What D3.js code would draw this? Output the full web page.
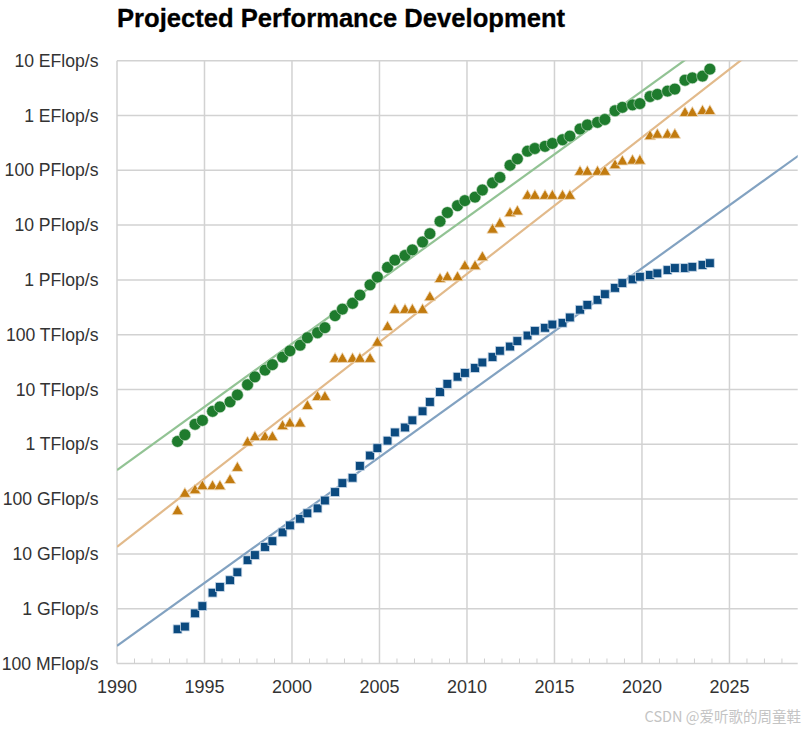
<!DOCTYPE html>
<html><head><meta charset="utf-8">
<script src="https://cdn.jsdelivr.net/npm/d3@7"></script>
<style>body{margin:0;background:#fff;}svg{display:block;}</style>
</head><body>
<svg id="chart" width="810" height="732"></svg>
<script>
// Release dates of lists (June / November)
const lists = [
"1993-06","1993-11","1994-06","1994-11","1995-06","1995-11","1996-06","1996-11",
"1997-06","1997-11","1998-06","1998-11","1999-06","1999-11","2000-06","2000-11",
"2001-06","2001-11","2002-06","2002-11","2003-06","2003-11","2004-06","2004-11",
"2005-06","2005-11","2006-06","2006-11","2007-06","2007-11","2008-06","2008-11",
"2009-06","2009-11","2010-06","2010-11","2011-06","2011-11","2012-06","2012-11",
"2013-06","2013-11","2014-06","2014-11","2015-06","2015-11","2016-06","2016-11",
"2017-06","2017-11","2018-06","2018-11","2019-06","2019-11","2020-06","2020-11",
"2021-06","2021-11","2022-06","2022-11","2023-06","2023-11"];
// Values in GFlop/s
const sumValues = [1128,1493,2318,2732,3992,4808,5951,7972,
12200,17000,22600,28400,39000,50800,64300,88100,
108600,134300,222200,293000,374700,528200,813100,1127000,
1690000,2301000,2792000,3527000,4921000,6970000,11700000,16950000,
22600000,27950000,32400000,43700000,58900000,74200000,123400000,162000000,
223000000,250000000,274000000,309000000,361000000,420000000,566700000,672000000,
749000000,845000000,1220000000,1410000000,1560000000,1650000000,2220000000,2430000000,
2790000000,3040000000,4400000000,4860000000,5240000000,7010000000];
const n1Values = [59.7,124,143.4,170,170,170,220.4,368.2,
1068,1338,1338,1338,2121,2379,2379,4938,
7226,7226,35860,35860,35860,35860,35860,70720,
136800,280600,280600,280600,280600,478200,1026000,1105000,
1105000,1759000,1759000,2566000,8162000,10510000,16320000,17590000,
33860000,33860000,33860000,33860000,33860000,33860000,93010000,93010000,
93010000,93010000,122300000,143500000,148600000,148600000,415500000,442000000,
442000000,442000000,1102000000,1102000000,1194000000,1194000000];
const n500Values = [0.4217,0.472,0.822,1.114,1.96,2.49,3.31,4.62,
7.67,9.51,13.4,17.1,24.7,33.1,43.8,55.1,
67.8,94.3,134.3,195.8,245.1,403.4,624,850.6,
1166,1646,2026,2737,4005,5929,9000,12640,
17090,20050,24670,31120,39090,50940,60820,76500,
96620,117800,133700,153400,164700,206300,285900,349300,
432200,548300,715600,874800,1021000,1142000,1228000,1317000,
1511000,1646000,1646000,1730000,1873000,2020000];
// Trend lines: [year, log10(flop/s)] at both ends
const trendSum  = [[1990, 11.53],[2029, 20.52]];
const trendN1   = [[1990, 10.13],[2029, 19.84]];
const trendN500 = [[1990, 8.32],[2029, 17.28]];
const yTickLabels = ["100 MFlop/s","1 GFlop/s","10 GFlop/s","100 GFlop/s","1 TFlop/s","10 TFlop/s",
"100 TFlop/s","1 PFlop/s","10 PFlop/s","100 PFlop/s","1 EFlop/s","10 EFlop/s"];
const xTickLabels = [1990,1995,2000,2005,2010,2015,2020,2025];

const svg = d3.select("#chart");
const L = 117, R = 797.7, T = 60.7, B = 663.5;
const x = d3.scaleLinear().domain([1990, 2028.9]).range([L, R]);
const y = d3.scaleLog().domain([1e8, 1e19]).range([B, T]);
const font = "'Liberation Sans', Arial, Helvetica, sans-serif";
const toYear = s => { const [yy, mm] = s.split("-").map(Number); return yy + (mm === 6 ? 0.46 : 0.88); };
const yTicks = yTickLabels.map((t,i) => Math.pow(10, 8 + i));

// Title
svg.append("text").attr("x", L).attr("y", 27).attr("font-family", font)
  .attr("font-weight", "bold").attr("font-size", 25.6).attr("fill", "#000")
  .attr("stroke", "#000").attr("stroke-width", 0.3)
  .text("Projected Performance Development");

// Grid
const grid = svg.append("g");
grid.selectAll("line.h").data(yTicks).enter().append("line")
  .attr("x1", L).attr("x2", R).attr("y1", d => y(d)).attr("y2", d => y(d))
  .attr("stroke", "#d2d2d2").attr("stroke-width", 1.5);
grid.selectAll("line.v").data(xTickLabels).enter().append("line")
  .attr("x1", d => x(d)).attr("x2", d => x(d)).attr("y1", T).attr("y2", B)
  .attr("stroke", "#d2d2d2").attr("stroke-width", 1.5);
// minor ticks
const minor = d3.range(1991, 2029).filter(v => v % 5 !== 0);
grid.selectAll("line.m").data(minor).enter().append("line")
  .attr("x1", d => x(d)).attr("x2", d => x(d)).attr("y1", B - 5).attr("y2", B)
  .attr("stroke", "#cfcfcf").attr("stroke-width", 1);

// Axis labels
svg.append("g").selectAll("text").data(yTicks).enter().append("text")
  .attr("x", 98.5).attr("y", d => y(d)).attr("dy", "0.35em").attr("text-anchor", "end")
  .attr("font-family", font).attr("font-size", 17.6).attr("fill", "#333")
  .text((d,i) => yTickLabels[i]);
svg.append("g").selectAll("text").data(xTickLabels).enter().append("text")
  .attr("x", d => x(d)).attr("y", 687).attr("dy", "0.35em").attr("text-anchor", "middle")
  .attr("font-family", font).attr("font-size", 18).attr("fill", "#333")
  .text(d => d);

// Clip
svg.append("clipPath").attr("id", "clip").append("rect")
  .attr("x", L).attr("y", T).attr("width", R - L).attr("height", B - T);

// Trend lines
const line = d3.line().x(d => x(d[0])).y(d => y(Math.pow(10, d[1])));
const trends = [[trendSum, "#92c394"], [trendN1, "#e2ba8b"], [trendN500, "#82a2c1"]];
const tg = svg.append("g").attr("clip-path", "url(#clip)");
trends.forEach(([pts, c]) => {
  tg.append("path").attr("d", line(pts)).attr("fill", "none").attr("stroke", c).attr("stroke-width", 2.2);
});

// Markers
const mk = svg.append("g");
const dates = lists.map(toYear);
mk.selectAll("rect.n500").data(n500Values).enter().append("rect")
  .attr("x", (d,i) => x(dates[i]) - 4.4).attr("y", d => y(d * 1e9) - 4.4)
  .attr("width", 8.8).attr("height", 8.8)
  .attr("fill", "#0b4a7f").attr("stroke", "#c9d8e8").attr("stroke-width", 0.8);
const tri = d3.symbol().type(d3.symbolTriangle).size(56);
mk.selectAll("path.n1").data(n1Values).enter().append("path")
  .attr("d", tri)
  .attr("transform", (d,i) => `translate(${x(dates[i])},${y(d * 1e9)})`)
  .attr("fill", "#c27b0f").attr("stroke", "#f0dcc0").attr("stroke-width", 0.8);
mk.selectAll("circle.sum").data(sumValues).enter().append("circle")
  .attr("cx", (d,i) => x(dates[i])).attr("cy", d => y(d * 1e9)).attr("r", 5.9)
  .attr("fill", "#1e7b2d").attr("stroke", "#cfe3cf").attr("stroke-width", 0.6);

// Watermark
svg.append("text").attr("x", 801).attr("y", 722).attr("text-anchor", "end")
  .attr("font-family", "'Noto Sans CJK SC', sans-serif").attr("font-size", 14.5)
  .attr("fill", "#c4c4c4").text("CSDN @爱听歌的周童鞋");
</script>
</body></html>
